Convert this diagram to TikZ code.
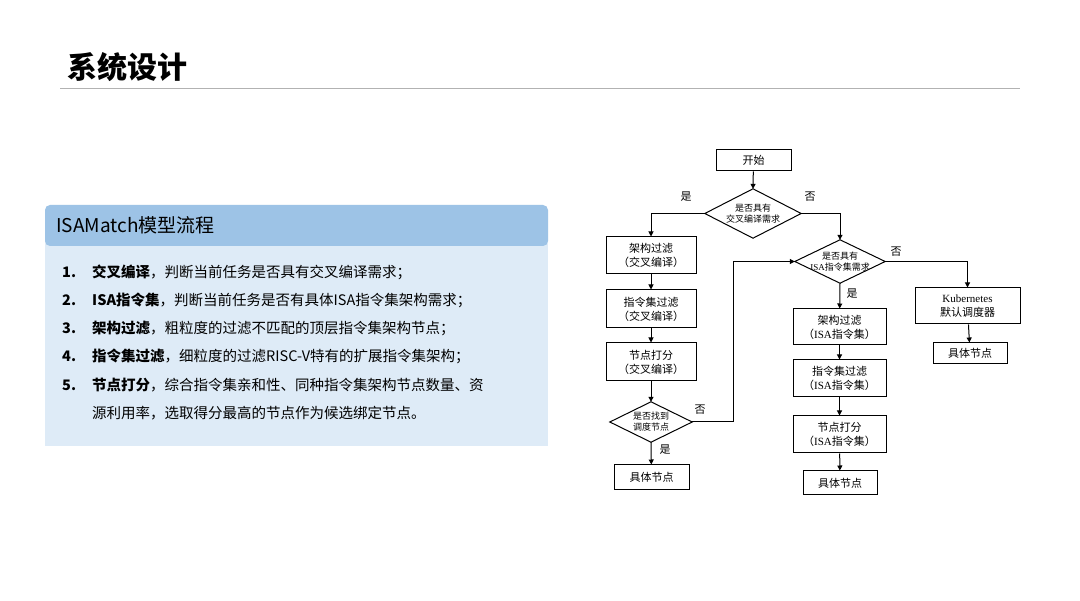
\documentclass[tikz,border=0pt]{standalone}
\usepackage{fontspec}
\setmainfont{Noto Sans CJK SC}
\newfontfamily\serifk{Liberation Serif}
\usetikzlibrary{shapes.geometric,arrows.meta}
\begin{document}
\begin{tikzpicture}[x=1pt,y=-1pt,
  box/.style={draw=black,line width=1pt,align=center,font=\fontsize{11}{14}\selectfont,inner sep=0pt},
  dia/.style={align=center,font=\fontsize{9}{11}\selectfont,inner sep=0pt},
  arr/.style={line width=1pt,-{Triangle[length=5pt,width=5pt]}},
  lab/.style={font=\fontsize{11}{13}\selectfont,inner sep=0pt},
  item/.style={anchor=west,font=\fontsize{14.5}{18}\selectfont,inner sep=0pt}]
\useasboundingbox (0,0) rectangle (1080,601);
\fill[white] (0,0) rectangle (1080,601);
% title
\node[anchor=west,font=\fontsize{30}{34}\selectfont\bfseries,inner sep=0pt] (title) at (67,67) {系统设计};
\draw[gray!60,line width=0.8pt] (60,88) coordinate (l1) -- (1020,88) coordinate (l2);
% panel
\fill[fill={rgb,255:red,222;green,235;blue,247}] (45,240) rectangle (548,446);
\fill[fill={rgb,255:red,157;green,195;blue,230},rounded corners=5pt] (45,205) rectangle (548,246);
\node[anchor=west,font=\fontsize{19}{22}\selectfont,inner sep=0pt] (ptitle) at (56,225) {ISAMatch模型流程};
\node[item] (n1) at (62,272) {\textbf{1.}}; \node[item] (t1) at (92,272) {\textbf{交叉编译}，判断当前任务是否具有交叉编译需求；};
\node[item] (n2) at (62,300) {\textbf{2.}}; \node[item] (t2) at (92,300) {\textbf{ISA指令集}，判断当前任务是否有具体ISA指令集架构需求；};
\node[item] (n3) at (62,328) {\textbf{3.}}; \node[item] (t3) at (92,328) {\textbf{架构过滤}，粗粒度的过滤不匹配的顶层指令集架构节点；};
\node[item] (n4) at (62,356) {\textbf{4.}}; \node[item] (t4) at (92,356) {\textbf{指令集过滤}，细粒度的过滤RISC-V特有的扩展指令集架构；};
\node[item] (n5) at (62,385) {\textbf{5.}}; \node[item] (t5) at (92,385) {\textbf{节点打分}，综合指令集亲和性、同种指令集架构节点数量、资};
\node[item] (t6) at (92,413) {源利用率，选取得分最高的节点作为候选绑定节点。};
% flowchart
\node[box,minimum width=75,minimum height=21] (start) at (753.5,160.5) {开始};
\node[dia,minimum width=96,minimum height=49] (d1) at (753,213.5) {是否具有\\交叉编译需求};
\node[box,minimum width=90,minimum height=37] (a1) at (651,255.5) {架构过滤\\（交叉编译）};
\node[box,minimum width=90,minimum height=38] (a2) at (651,309) {指令集过滤\\（交叉编译）};
\node[box,minimum width=90,minimum height=38] (a3) at (651,362) {节点打分\\（交叉编译）};
\node[dia,minimum width=82,minimum height=40] (d3) at (651,422) {是否找到\\调度节点};
\node[box,minimum width=75,minimum height=25] (a4) at (651.5,477.5) {具体节点};
\node[dia,minimum width=90,minimum height=43] (d2) at (840,261.5) {是否具有\\{\serifk ISA}指令集需求};
\node[box,minimum width=93,minimum height=36] (b1) at (839.5,327) {架构过滤\\（{\serifk ISA}指令集）};
\node[box,minimum width=93,minimum height=37] (b2) at (839.5,378.5) {指令集过滤\\（{\serifk ISA}指令集）};
\node[box,minimum width=93,minimum height=37] (b3) at (839.5,434.5) {节点打分\\（{\serifk ISA}指令集）};
\node[box,minimum width=74,minimum height=24] (b4) at (840,483) {具体节点};
\node[box,minimum width=105,minimum height=36] (k1) at (967.5,306) {{\serifk Kubernetes}\\默认调度器};
\node[box,minimum width=74,minimum height=21] (k2) at (970,353.5) {具体节点};
\foreach \d in {d1,d2,d3} \draw[line width=1pt] (\d.north) -- (\d.east) -- (\d.south) -- (\d.west) -- cycle;
\draw[arr] (start) -- (d1.north);
\draw[arr] (d1.west) -| (a1.north);
\draw[arr] (d1.east) -| (d2.north);
\draw[arr] (a1) -- (a2);
\draw[arr] (a2) -- (a3);
\draw[arr] (a3) -- (d3.north);
\draw[arr] (d3.south) -- (a4);
\draw[arr] (d3.east) -- (733,422) |- (d2.west);
\draw[arr] (d2.south) -- (b1);
\draw[arr] (b1) -- (b2);
\draw[arr] (b2) -- (b3);
\draw[arr] (b3) -- (b4);
\draw[arr] (d2.east) -| (k1.north);
\draw[arr] (k1) -- (k2);
\node[lab] (y1) at (686,197) {是};
\node[lab] (no1) at (810,197) {否};
\node[lab] (no3) at (700,410) {否};
\node[lab] (y3) at (665,450) {是};
\node[lab] (no2) at (896,252) {否};
\node[lab] (y2) at (852,294) {是};
\end{tikzpicture}
\end{document}
